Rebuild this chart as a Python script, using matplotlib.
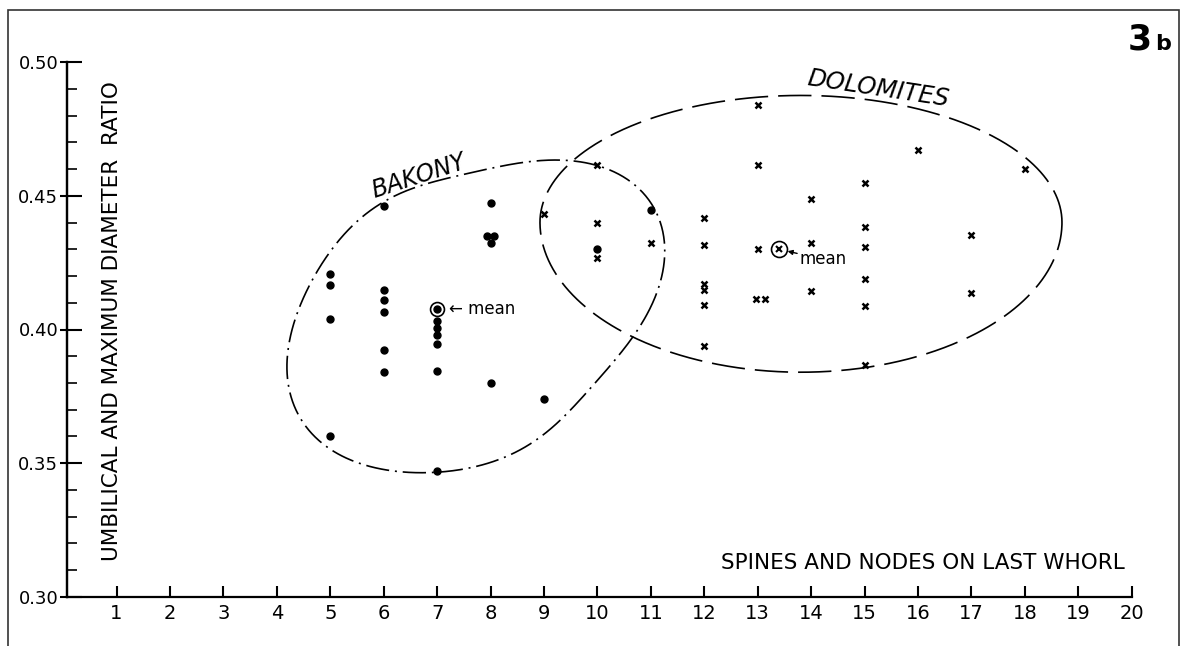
import numpy as np
import matplotlib.pyplot as plt
from matplotlib.patches import Rectangle
from matplotlib.ticker import FixedLocator, MultipleLocator, NullLocator

# values
bakony_x = [5, 5, 5, 5,
            6, 6, 6, 6, 6, 6,
            7, 7, 7, 7, 7, 7,
            7.93, 8.07, 8, 8, 8,
            9, 10, 11]
bakony_y = [0.4206, 0.4166, 0.4039, 0.3601,
            0.4461, 0.4149, 0.4109, 0.4066, 0.3923, 0.3840,
            0.4032, 0.4005, 0.3978, 0.3944, 0.3845, 0.3471,
            0.4350, 0.4350, 0.4325, 0.4474, 0.3798,
            0.3740, 0.4303, 0.4447]

dolomites_x = [9, 10, 10, 10, 11,
               12, 12, 12, 12, 12, 12,
               13, 13, 13, 12.97, 13.13,
               14, 14, 14,
               15, 15, 15, 15, 15, 15,
               16, 17, 17, 18]
dolomites_y = [0.4434, 0.4615, 0.4400, 0.4266, 0.4322,
               0.4417, 0.4315, 0.4170, 0.4147, 0.4091, 0.3939,
               0.4839, 0.4615, 0.4303, 0.4113, 0.4113,
               0.4490, 0.4325, 0.4143,
               0.4549, 0.4384, 0.4310, 0.4188, 0.4088, 0.3866,
               0.4673, 0.4355, 0.4137, 0.4602]

bakony_mean = (7.0, 0.4075)
dolomites_mean = (13.39, 0.4303)

x_ticks = list(range(1, 21))
y_ticks = [0.30, 0.35, 0.40, 0.45, 0.50]
y_tick_labels = ["0.30", "0.35", "0.40", "0.45", "0.50"]

# y value of one x unit on screen (keeps the outlines looking right)
Y_PER_X = 1 / 50.05


def ellipse_outline(cx, cy, a, b, angle, wobble=()):
    # tilted ellipse in polar form, plus small harmonic wobble of the radius
    phi = np.linspace(0, 2 * np.pi, 800)
    psi = phi - np.radians(angle)
    r = 1 / np.sqrt(np.cos(psi) ** 2 / a ** 2 + np.sin(psi) ** 2 / b ** 2)
    for k, (ca, sb) in enumerate(wobble, start=2):
        r = r + ca * np.cos(k * phi) + sb * np.sin(k * phi)
    return cx + r * np.cos(phi), cy + r * np.sin(phi) * Y_PER_X


def egg_outline(cx, cy, a, b_up, b_down, angle):
    t = np.linspace(0, 2 * np.pi, 800)
    b = np.where(np.sin(t) >= 0, b_up, b_down)
    u = a * np.cos(t)
    v = b * np.sin(t)
    th = np.radians(angle)
    xs = cx + u * np.cos(th) - v * np.sin(th)
    ys = cy + (u * np.sin(th) + v * np.cos(th)) * Y_PER_X
    return xs, ys


fig = plt.figure(figsize=(11.85, 6.46), dpi=100)
fig.patches.append(Rectangle((8 / 1185, -0.02), 1171 / 1185, 636 / 646 + 0.02,
                             transform=fig.transFigure, fill=False,
                             edgecolor="#333333", linewidth=1.2))

ax = fig.add_axes([66.7 / 1185, 49.3 / 646, 1065 / 1185, 534.4 / 646])
ax.set_xlim(0.067, 20)
ax.set_ylim(0.30, 0.50)
for side in ["top", "right"]:
    ax.spines[side].set_visible(False)
for side in ["left", "bottom"]:
    ax.spines[side].set_linewidth(1.6)

ax.xaxis.set_major_locator(FixedLocator(x_ticks))
ax.set_xticklabels([str(v) for v in x_ticks])
ax.yaxis.set_major_locator(FixedLocator(y_ticks))
ax.set_yticklabels(y_tick_labels)
ax.yaxis.set_minor_locator(MultipleLocator(0.01))
ax.tick_params(axis="x", direction="in", length=8, width=1.5, pad=5, labelsize=14)
ax.tick_params(axis="y", which="major", direction="in", length=11, width=1.5, pad=6, labelsize=13)
ax.tick_params(axis="y", which="minor", direction="in", length=7.5, width=1.2)

sec = ax.secondary_yaxis("left")
sec.yaxis.set_major_locator(FixedLocator(y_ticks))
sec.yaxis.set_minor_locator(NullLocator())
sec.tick_params(axis="y", direction="out", length=5, width=1.5, labelleft=False)
sec.spines["left"].set_linewidth(1.6)

# group outlines
bx, by = ellipse_outline(7.646, 0.4056, 3.856, 2.545, 31,
                         wobble=[(-0.026, -0.036), (0.003, 0.103), (-0.024, 0.031)])
ax.plot(bx, by, color="black", lw=1.2, linestyle=(0, (14, 3.5, 1.2, 3.5)))
dx, dy = egg_outline(13.81, 0.4401, 4.885, 2.377, 2.807, 0)
ax.plot(dx, dy, color="black", lw=1.2, linestyle=(0, (20, 6)))

ax.plot(bakony_x, bakony_y, "o", color="black", markersize=5, linestyle="none")
ax.plot(dolomites_x, dolomites_y, "x", color="black", markersize=5, mew=1.8, linestyle="none")

# means
ax.plot(*bakony_mean, "o", color="black", markersize=5)
ax.plot(*bakony_mean, "o", mfc="none", mec="black", markersize=10, mew=1.2)
ax.text(bakony_mean[0] + 0.22, bakony_mean[1], "\u2190 mean", fontsize=12, ha="left", va="center")
ax.plot(*dolomites_mean, "x", color="black", markersize=5, mew=1.5)
ax.plot(*dolomites_mean, "o", mfc="none", mec="black", markersize=11.5, mew=1.2)
ax.annotate("mean", xy=(dolomites_mean[0] + 0.17, dolomites_mean[1] - 0.001),
            xytext=(dolomites_mean[0] + 0.4, dolomites_mean[1] - 0.0041),
            fontsize=12, ha="left", va="center",
            arrowprops=dict(arrowstyle="-|>", color="black", lw=1, mutation_scale=7,
                            shrinkA=0, shrinkB=0))

ax.text(6.66, 0.4575, "BAKONY", fontsize=17, style="italic", rotation=18,
        ha="center", va="center", rotation_mode="anchor")
ax.text(15.25, 0.4900, "DOLOMITES", fontsize=17.5, style="italic", rotation=-8.6,
        ha="center", va="center", rotation_mode="anchor")

ax.text(0.0425, 0.516, "UMBILICAL AND MAXIMUM DIAMETER  RATIO", transform=ax.transAxes,
        rotation=90, fontsize=15.5, ha="center", va="center")
ax.text(0.9937, 0.063, "SPINES AND NODES ON LAST WHORL", transform=ax.transAxes,
        fontsize=15.5, ha="right", va="center")

fig.text(1152 / 1185, 596 / 646, "3", fontsize=25, weight="bold", ha="right", va="baseline")
fig.text(1155 / 1185, 596 / 646, "b", fontsize=16, weight="bold", ha="left", va="baseline")

fig.savefig("out.png", dpi=100)
